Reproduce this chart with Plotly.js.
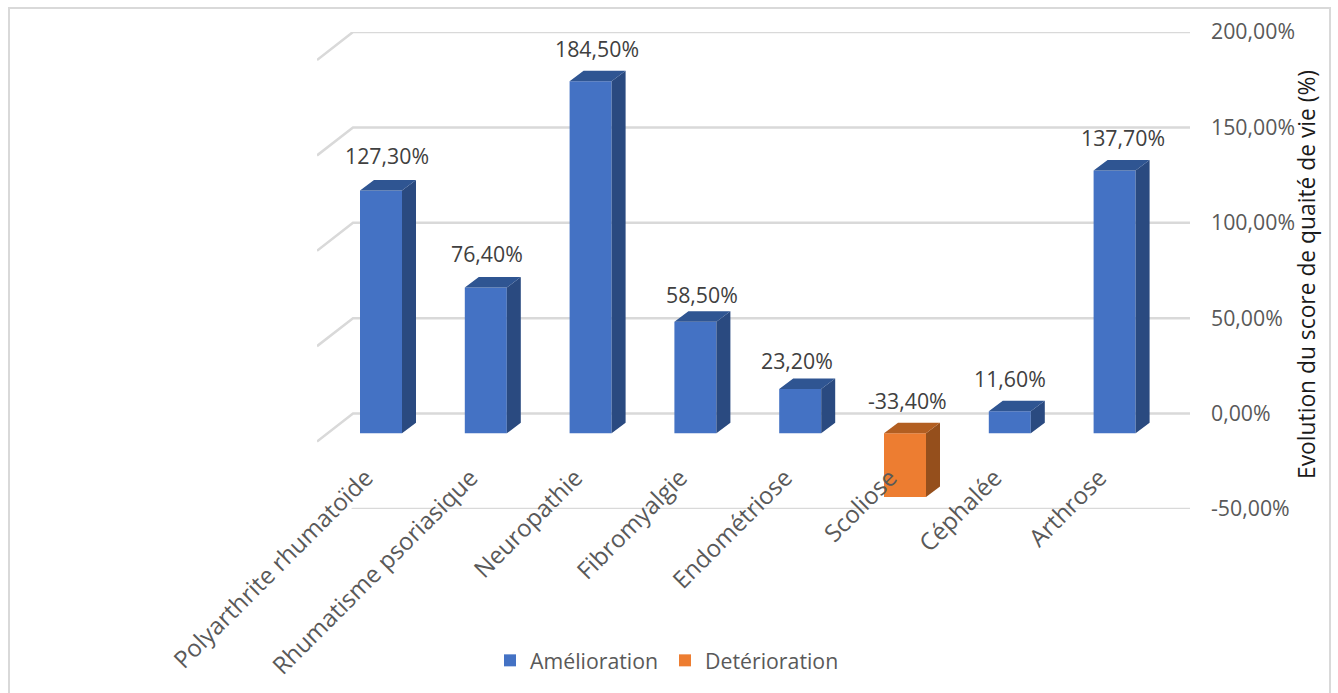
<!DOCTYPE html>
<html>
<head>
<meta charset="utf-8">
<script src="https://cdn.plot.ly/plotly-3.0.1.min.js"></script>
<style>html,body{margin:0;padding:0;background:#fff;overflow:hidden}</style>
</head>
<body>
<div id="chart" style="width:1338px;height:693px"></div>
<script>
// ---- data ----
const categories = ["Polyarthrite rhumatoïde","Rhumatisme psoriasique","Neuropathie","Fibromyalgie","Endométriose","Scoliose","Céphalée","Arthrose"];
const amelioration = [127.3, 76.4, 184.5, 58.5, 23.2, null, 11.6, 137.7];
const deterioration = [null, null, null, null, null, -33.4, null, null];
const yTicks = [-50, 0, 50, 100, 150, 200];
const yTickLabels = ["-50,00%","0,00%","50,00%","100,00%","150,00%","200,00%"];
const yTitle = "Evolution du score de quaité de vie (%)";

// ---- layout geometry (pixels) ----
const W = 1338, H = 693;
const plotL = 317, plotR = 1190, plotT = 32, plotB = 509;
const firstCenter = 381, catStep = 104.8;
const pxY = (plotB - plotT) / 250;
const xMin = (plotL - firstCenter) / catStep, xMax = (plotR - firstCenter) / catStep;
const barW = 42 / catStep;
const frontDrop = 19.7 / pxY;            // front plane of bars, below the back wall
const depthX = 14 / catStep, depthY = 10.5 / pxY;
const wallX = (353 - firstCenter) / catStep;
const floorX = (317 - firstCenter) / catStep, floorY = 28 / pxY;
const labelDx = [6, 1, 6, 7, -3, 2, 0, 8];
const labelDy = [35, 34, 33, 27, 29, 33, 33, 33];
const labelFont = "Open Sans, sans-serif";
const FS = 21.3;

const idx = categories.map((_, i) => i);
const px = v => (v - plotL) / (plotR - plotL);
const py = v => (plotB - v) / (plotB - plotT);

function faces(values, sideColor, topColor) {
  const sx = [], sy = [], tx = [], ty = [];
  values.forEach((v, i) => {
    if (v === null) return;
    const l = i - barW / 2, r = i + barW / 2;
    const a = -frontDrop, b = v - frontDrop, top = Math.max(a, b);
    sx.push(r, r + depthX, r + depthX, r, r, null);
    sy.push(a, a + depthY, b + depthY, b, a, null);
    tx.push(l, r, r + depthX, l + depthX, l, null);
    ty.push(top, top, top + depthY, top + depthY, top, null);
  });
  const t = (x, y, c) => ({type: "scatter", mode: "lines", x, y, fill: "toself", fillcolor: c,
    line: {width: 0, color: c}, showlegend: false, hoverinfo: "skip"});
  return [t(sx, sy, sideColor), t(tx, ty, topColor)];
}
const bar = (name, y, color) => ({type: "bar", name, x: idx, y, base: -frontDrop, width: barW,
  marker: {color, line: {width: 0}}, hovertemplate: "%{y}%<extra>" + name + "</extra>"});

const traces = [
  bar("Amélioration", amelioration, "#4472C4"),
  bar("Detérioration", deterioration, "#ED7D31"),
  ...faces(amelioration, "#2A4A80", "#2F5592"),
  ...faces(deterioration, "#954F1C", "#B25E21")
];

const gridShapes = yTicks.map(t => ({
  type: "path", xref: "x", yref: "y", layer: "below",
  path: `M ${floorX} ${t - floorY} L ${wallX} ${t} L ${xMax} ${t}`,
  line: {color: "#D9D9D9", width: 2.5}
}));
const frame = {type: "rect", xref: "paper", yref: "paper", layer: "below",
  x0: px(9), x1: px(1330), y0: py(740), y1: py(8), line: {color: "#D9D9D9", width: 2}};

const annotations = categories.map((_, i) => {
  const v = amelioration[i] !== null ? amelioration[i] : deterioration[i];
  const top = Math.max(0, v) - frontDrop;
  return {x: i, y: top, xref: "x", yref: "y", showarrow: false,
    text: v.toFixed(2).replace(".", ",") + "%",
    xshift: labelDx[i], yshift: labelDy[i], xanchor: "center", yanchor: "middle",
    font: {family: labelFont, size: FS, color: "#404040"}};
});
annotations.push({x: px(1306), y: py(275), xref: "paper", yref: "paper", showarrow: false,
  text: yTitle, textangle: -90, xanchor: "center", yanchor: "middle",
  font: {family: labelFont, size: 22.8, color: "#1A1A1A"}});

const layout = {
  width: W, height: H,
  margin: {l: plotL, r: W - plotR, t: plotT, b: H - plotB, pad: 0, autoexpand: false},
  paper_bgcolor: "#fff", plot_bgcolor: "rgba(0,0,0,0)",
  barmode: "overlay",
  font: {family: labelFont, size: FS, color: "#595959"},
  xaxis: {type: "linear", range: [xMin, xMax], tickmode: "array", tickvals: idx, ticktext: categories,
    tickangle: -45, ticks: "", showgrid: false, zeroline: false, showline: false, fixedrange: true,
    anchor: "free", position: 0.107, ticklabelshift: -15, tickfont: {family: labelFont, size: 24, color: "#595959"}},
  yaxis: {range: [-50, 200], side: "right", tickmode: "array", tickvals: yTicks, ticktext: yTickLabels,
    ticks: "", showgrid: false, zeroline: false, showline: false, fixedrange: true, ticklabelstandoff: 20,
    tickfont: {family: labelFont, size: FS, color: "#595959"}},
  legend: {orientation: "h", x: px(490), y: py(640), xanchor: "left", yanchor: "top",
    entrywidth: 130, entrywidthmode: "pixels", bgcolor: "rgba(0,0,0,0)",
    font: {family: labelFont, size: FS, color: "#595959"}},
  shapes: [frame, ...gridShapes],
  annotations
};
Plotly.newPlot("chart", traces, layout, {displayModeBar: false, staticPlot: false});
</script>
</body>
</html>
